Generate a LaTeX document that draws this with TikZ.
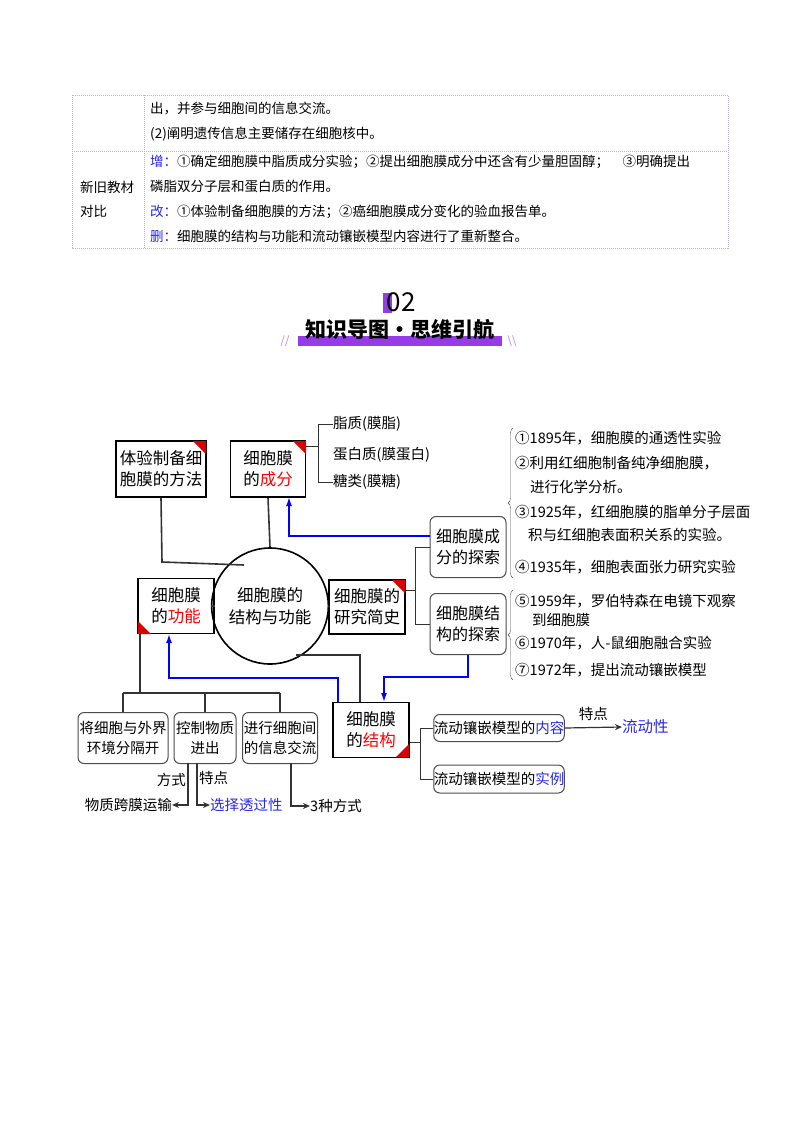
\documentclass[tikz,border=0pt]{standalone}
\usepackage{fontspec}
\setmainfont{Noto Sans CJK SC}
\usetikzlibrary{positioning,decorations.pathreplacing,shapes.geometric,arrows.meta}
\definecolor{grid}{RGB}{190,170,220}
\definecolor{tagblue}{RGB}{40,40,230}
\definecolor{titlepurple}{RGB}{150,60,230}
\begin{document}
\begin{tikzpicture}
    [ x = 1pt, y = -1pt
    , box/.style =
      { draw, line width=1.6pt, rectangle, align=center, inner sep=0pt, font=\fontsize{16.5}{21}\selectfont }
    , rbox/.style =
      { draw=black!70, line width=1pt, rounded corners=6pt, align=center, inner sep=0pt, font=\fontsize{14.5}{20}\selectfont }
    , item/.style =
      { anchor=west, inner sep=0pt, font=\fontsize{14.5}{18}\selectfont }
    , row/.style =
      { anchor=west, inner sep=0pt, font=\fontsize{13.5}{16}\selectfont }
    , link/.style =
      { line width=1.6pt, black!80 }
    , bluelink/.style =
      { line width=1.5pt, blue, -{Latex[length=9pt,width=6pt]} }
    , tip/.style =
      { line width=1.2pt, black!80, -{Stealth[length=7pt,width=6pt]} }
    ]
    \useasboundingbox (0,0) rectangle (800,1132);

    % table
    \draw [grid, densely dotted, line width=1pt] (72,95) rectangle (728,248);
    \draw [grid, densely dotted, line width=1pt] (144,95) -- (144,248);
    \draw [grid, densely dotted, line width=1pt] (72,151) -- (728,151);
    \node [row] (r1) at (150,108) {出，并参与细胞间的信息交流。};
    \node [row] (r2) at (150,134) {(2)阐明遗传信息主要储存在细胞核中。};
    \node [row] (c1) at (80,187) {新旧教材};
    \node [row] (c2) at (80,211) {对比};
    \node [row] (z1) at (150,162) {\textcolor{tagblue}{增：}①确定细胞膜中脂质成分实验；②提出细胞膜成分中还含有少量胆固醇；\quad ③明确提出};
    \node [row] (z2) at (150,186) {磷脂双分子层和蛋白质的作用。};
    \node [row] (z3) at (150,212) {\textcolor{tagblue}{改：}①体验制备细胞膜的方法；②癌细胞膜成分变化的验血报告单。};
    \node [row] (z4) at (150,236) {\textcolor{tagblue}{删：}细胞膜的结构与功能和流动镶嵌模型内容进行了重新整合。};

    % title
    \fill [titlepurple] (383,293) rectangle (392,313);
    \node (num) at (401,302) {\fontsize{26}{26}\selectfont 02};
    \fill [titlepurple] (298,336) rectangle (502,346);
    \node (title) at (400,330) {\fontsize{21}{21}\selectfont\bfseries 知识导图·思维引航};
    \node [titlepurple!70] (sl) at (285,341) {\fontsize{11}{11}\selectfont //};
    \node [titlepurple!70] (sr) at (512,341) {\fontsize{11}{11}\selectfont \textbackslash\textbackslash};

    % mind map
    \node [draw, line width=1.6pt, ellipse, minimum width=86pt, minimum height=116pt, align=center, inner sep=0pt, font=\fontsize{16.5}{22}\selectfont] (core) at (270,606) {细胞膜的\\结构与功能};
    \node [box, minimum width=90pt, minimum height=56pt] (method) at (161,469) {体验制备细\\胞膜的方法};
    \node [box, minimum width=75pt, minimum height=56pt] (part) at (268,469) {细胞膜\\的\textcolor{red}{成分}};
    \node [box, minimum width=76pt, minimum height=55pt] (func) at (176,606) {细胞膜\\的\textcolor{red}{功能}};
    \node [box, minimum width=76pt, minimum height=54pt] (hist) at (367,607) {细胞膜的\\研究简史};
    \node [box, minimum width=76pt, minimum height=55pt] (struct) at (371,730) {细胞膜\\的\textcolor{red}{结构}};
    \node [rbox, minimum width=76pt, minimum height=61pt, font=\fontsize{16}{21}\selectfont] (xa) at (468,547) {细胞膜成\\分的探索};
    \node [rbox, minimum width=76pt, minimum height=61pt, font=\fontsize{16}{21}\selectfont] (xb) at (468,624) {细胞膜结\\构的探索};
    \node [rbox, minimum width=128pt, minimum height=27pt] (ma) at (499,728) {流动镶嵌模型的\textcolor{tagblue}{内容}};
    \node [rbox, minimum width=128pt, minimum height=28pt] (mb) at (499,779) {流动镶嵌模型的\textcolor{tagblue}{实例}};
    \node [rbox, minimum width=90pt, minimum height=51pt] (fa) at (123,738) {将细胞与外界\\环境分隔开};
    \node [rbox, minimum width=62pt, minimum height=51pt] (fb) at (205,738) {控制物质\\进出};
    \node [rbox, minimum width=75pt, minimum height=51pt] (fc) at (280,738) {进行细胞间\\的信息交流};

    % red corners
    \foreach \x/\y in {193/441, 293/441, 392/580}
      \fill [red!85!black] (\x,\y) -- (\x+13,\y) -- (\x+13,\y+13) -- cycle;
    \fill [red!85!black] (138,621) -- (138,634) -- (151,634) -- cycle;
    \fill [red!85!black] (409,744) -- (409,757) -- (396,757) -- cycle;

    % components
    \node [item] (p1) at (333,424) {脂质(膜脂)};
    \node [item] (p2) at (333,455) {蛋白质(膜蛋白)};
    \node [item] (p3) at (333,482) {糖类(膜糖)};
    \draw [black!80] (part.east |- 0,446) -- (318,446);
    \draw [black!80] (p1.west) -- (318,424) -- (318,482) -- (p3.west);

    % history items
    \node [item] (h1) at (515,438) {①1895年，细胞膜的通透性实验};
    \node [item] (h2) at (515,463) {②利用红细胞制备纯净细胞膜，};
    \node [item] (h2b) at (530,487) {进行化学分析。};
    \node [item] (h3) at (515,512) {③1925年，红细胞膜的脂单分子层面};
    \node [item] (h3b) at (528,535) {积与红细胞表面积关系的实验。};
    \node [item] (h4) at (515,567) {④1935年，细胞表面张力研究实验};
    \node [item] (h5) at (515,601) {⑤1959年，罗伯特森在电镜下观察};
    \node [item] (h5b) at (532,620) {到细胞膜};
    \node [item] (h6) at (515,643) {⑥1970年，人-鼠细胞融合实验};
    \node [item] (h7) at (515,670) {⑦1972年，提出流动镶嵌模型};
    \draw [decorate, decoration={brace, amplitude=5pt, mirror}, black!70] (513,428) -- (513,578);
    \draw [decorate, decoration={brace, amplitude=5pt, mirror}, black!70] (513,590) -- (513,680);

    % connectors
    \draw [link] (core.north) -- (part.south);
    \draw [link] (method.south) -- (162,562) -- (244,565);
    \draw [link] (core.west) -- (func.east);
    \draw [link] (core.east) -- (hist.east -| hist.west);
    \draw [link] (296,655) -- (360,655) -- (struct.north -| 360,0);
    \draw [black!80] (hist.east |- 0,590) -- (415,590);
    \draw [black!80] (xa.west) -- (415,547) -- (415,624) -- (xb.west);
    \draw [black!80] (struct.east |- 0,742) -- (420,742);
    \draw [black!80] (ma.west) -- (420,728) -- (420,779) -- (mb.west);
    \draw [link] (140,634) -- (140,693);
    \draw [link] (fa.north |- 0,693) -- (fc.north |- 0,693);
    \draw [link] (fa.north) -- (fa.north |- 0,693);
    \draw [link] (fb.north) -- (fb.north |- 0,693);
    \draw [link] (fc.north) -- (fc.north |- 0,693);

    % blue arrows
    \draw [bluelink] (xa.west |- 0,536) -- (289,536) -- (289,497);
    \draw [bluelink] (xb.south) -- (468,677) -- (384,677) -- (384,702);
    \draw [bluelink] (338,702) -- (338,678) -- (169,678) -- (169,634);

    % leaves
    \node [anchor=west, inner sep=0pt, font=\fontsize{15.5}{18}\selectfont, tagblue] (flow) at (622,727) {流动性};
    \draw [tip] (ma.east) -- (flow.west) node [midway, above=3pt, black, font=\fontsize{14.5}{17}\selectfont] (feat) {特点};
    \node [anchor=east, inner sep=0pt, font=\fontsize{14.5}{17}\selectfont] (trans) at (172,805) {物质跨膜运输};
    \node [anchor=west, inner sep=0pt, font=\fontsize{14.5}{17}\selectfont, tagblue] (perm) at (210,805) {选择透过性};
    \node [anchor=west, inner sep=0pt, font=\fontsize{14.5}{17}\selectfont] (three) at (310,806) {3种方式};
    \node [anchor=east, inner sep=0pt, font=\fontsize{14.5}{17}\selectfont] (way) at (186,780) {方式};
    \node [anchor=west, inner sep=0pt, font=\fontsize{14.5}{17}\selectfont] (pt) at (199,778) {特点};
    \draw [tip] (188,763) -- (188,805) -- (trans.east);
    \draw [tip] (197,763) -- (197,805) -- (perm.west);
    \draw [tip] (291,763) -- (291,806) -- (three.west);
\end{tikzpicture}
\end{document}
